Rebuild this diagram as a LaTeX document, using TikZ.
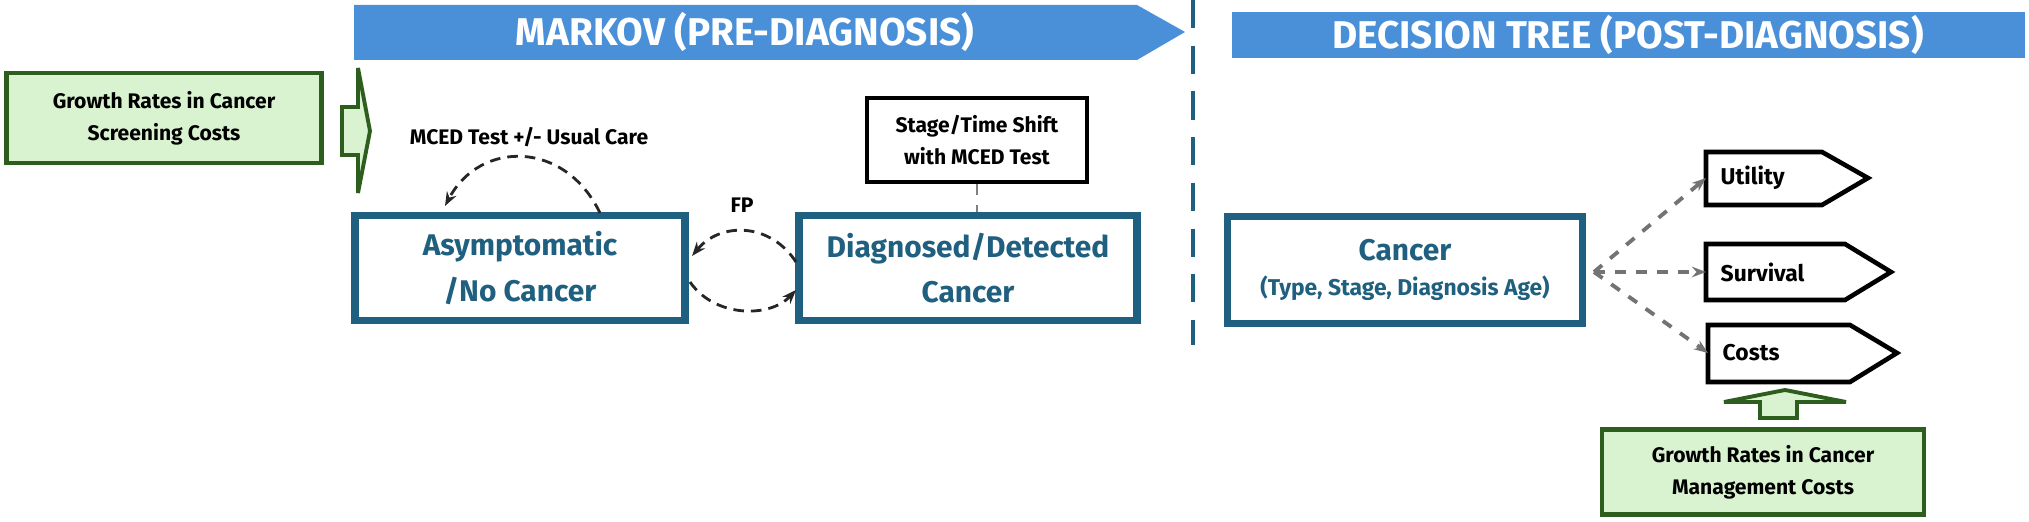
\documentclass[tikz,border=0pt]{standalone}
\usepackage{fontspec}
\setmainfont{Fira Sans}
\usetikzlibrary{arrows.meta}
\definecolor{bannerblue}{HTML}{4A90D9}
\definecolor{statecol}{HTML}{1F5F7F}
\definecolor{greenfill}{HTML}{D9F2D0}
\definecolor{greendraw}{HTML}{2E5E1E}
\tikzset{
    state/.style={draw=statecol, line width=2.2pt, text=statecol, font=\bfseries\fontsize{8.5}{13}\selectfont, align=center, inner sep=0pt}, % Markov-Zustaende
    note/.style={draw, line width=1.3pt, font=\bfseries\fontsize{6}{9}\selectfont, align=center, inner sep=0pt},
    growth/.style={draw=greendraw, fill=greenfill, line width=1.3pt, font=\bfseries\fontsize{6}{9}\selectfont, align=center, inner sep=0pt},
    outcome/.style={font=\bfseries\fontsize{6.5}{8}\selectfont, anchor=west, inner sep=0pt},
    tag/.style={draw, line width=1.3pt, line join=miter},
    loop/.style={densely dashed, thick, -{Stealth[length=4pt]}, color=black!85},
    branch/.style={dashed, line width=1.1pt, -{Stealth[length=4pt]}, color=black!55}
}
\begin{document}
\begin{tikzpicture}[x=0.01cm, y=-0.01cm]
    \useasboundingbox (0,0) rectangle (2029,522);

    % Phasenbalken
    \fill[bannerblue] (354,5) -- (1137,5) -- (1185,32) -- (1137,60) -- (354,60) -- cycle;
    \node[white, font=\bfseries\fontsize{11}{13}\selectfont] (markov) at (745,32) {MARKOV (PRE-DIAGNOSIS)};
    \fill[bannerblue] (1232,12) rectangle (2025,58);
    \node[white, font=\bfseries\fontsize{11}{13}\selectfont] (dtree) at (1628,35) {DECISION TREE (POST-DIAGNOSIS)};
    \draw[statecol, line width=1.3pt, dash pattern=on 8pt off 5pt] (1193,0) -- (1193,345);

    % Markov-Teil
    \node[growth, minimum width=3.15cm, minimum height=0.9cm] (screen) at (164,118) {Growth Rates in Cancer\\Screening Costs};
    \draw[greendraw, fill=greenfill, line width=1.1pt] (342,107) -- (358,107) -- (358,68) -- (370,131) -- (358,193) -- (358,155) -- (342,155) -- cycle;
    \node[font=\bfseries\fontsize{6}{8}\selectfont] (mced) at (529,137) {MCED Test +/- Usual Care};
    \node[state, minimum width=3.3cm, minimum height=1.05cm] (asym) at (520,268) {Asymptomatic\\/No Cancer};
    \node[state, minimum width=3.38cm, minimum height=1.05cm] (diag) at (968,268) {Diagnosed/Detected\\Cancer};
    \node[note, minimum width=2.2cm, minimum height=0.84cm] (shift) at (977,140) {Stage/Time Shift\\with MCED Test};
    \node[font=\bfseries\fontsize{6}{8}\selectfont] (fp) at (742,205) {FP};
    \draw[dashed, thick, black!50] (shift.south) -- (shift.south |- diag.north);
    \coordinate (selfout) at (600,213);
    \coordinate (selfin) at (445,206);
    \coordinate (fpout) at (796,262);
    \coordinate (fpin) at (692,256);
    \coordinate (detout) at (690,282);
    \coordinate (detin) at (796,290);
    \draw[loop] (selfout) .. controls (565,140) and (480,140) .. (selfin);
    \draw[loop] (fpout) .. controls (770,222) and (720,222) .. (fpin);
    \draw[loop] (detout) .. controls (715,318) and (770,318) .. (detin);

    % Entscheidungsbaum
    \node[state, minimum width=3.55cm, minimum height=1.07cm] (cancer) at (1405,270) {Cancer\\[-3pt]{\fontsize{6.5}{8}\selectfont (Type, Stage, Diagnosis Age)}};
    \coordinate (split) at (1594,272);
    \draw[tag] (1706,152) -- (1822,152) -- (1868,178) -- (1822,205) -- (1706,205) -- cycle;
    \draw[tag] (1706,244) -- (1845,244) -- (1891,272) -- (1845,300) -- (1706,300) -- cycle;
    \draw[tag] (1708,325) -- (1850,325) -- (1897,353) -- (1850,382) -- (1708,382) -- cycle;
    \node[outcome] (utility) at (1720,178) {Utility};
    \node[outcome] (survival) at (1720,272) {Survival};
    \node[outcome] (costs) at (1722,353) {Costs};
    \foreach \o/\x in {utility/1706, survival/1706, costs/1708} {\draw[branch] (split) -- (\x, 0 |- \o.west);}
    \draw[greendraw, fill=greenfill, line width=1.1pt] (1760,418) -- (1760,402) -- (1724,402) -- (1785,390) -- (1846,402) -- (1797,402) -- (1797,418) -- cycle;
    \node[growth, minimum width=3.22cm, minimum height=0.85cm] (manage) at (1763,472) {Growth Rates in Cancer\\Management Costs};
\end{tikzpicture}
\end{document}
